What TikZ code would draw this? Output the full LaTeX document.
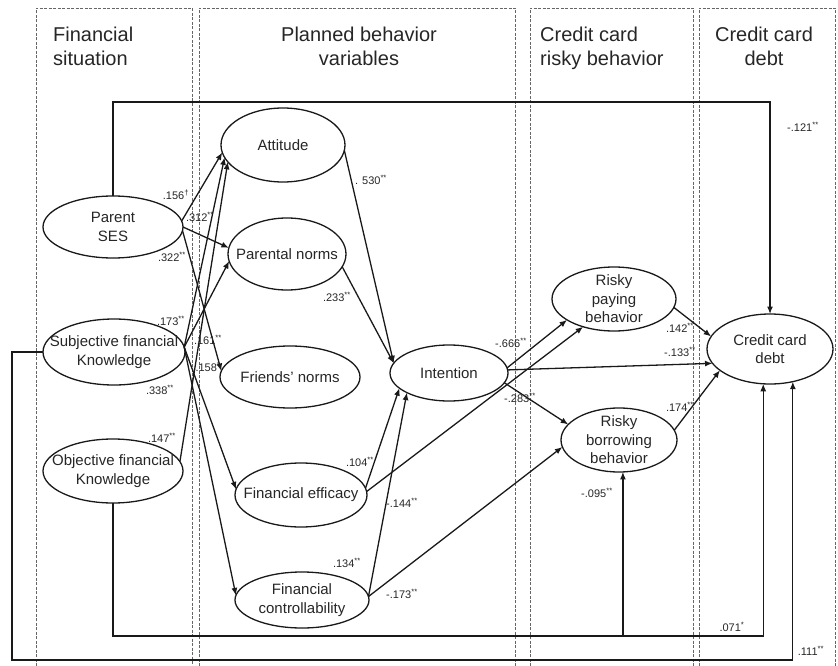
\documentclass[tikz,border=0pt]{standalone}
\usepackage{fontspec}
\setmainfont{Liberation Sans}
\usetikzlibrary{arrows.meta,shapes.geometric}
\begin{document}
\begin{tikzpicture}[x=1pt,y=-1pt,
  panel/.style={draw=black!60, line width=0.8pt, dash pattern=on 3pt off 1.5pt},
  ell/.style={draw=black!90, ellipse, line width=1.3pt, inner sep=0pt, outer sep=0pt},
  et/.style={font=\fontsize{15}{18.5}\selectfont, align=center, text=black!85, inner sep=0pt},
  title/.style={font=\fontsize{20}{23.5}\selectfont, text=black!85, inner sep=0pt},
  lbl/.style={font=\fontsize{11}{12}\selectfont, text=black!85, inner sep=0pt},
  arr/.style={draw=black!90, line width=1.3pt, -{Latex[length=7.5pt,width=6pt]}}]
\useasboundingbox (0,0) rectangle (838,666);

% panels
\draw[panel] (36,666) -- (36,8) -- (192,8) -- (192,666);
\draw[panel] (199,666) -- (199,8) -- (515,8) -- (515,666);
\draw[panel] (530,666) -- (530,8) -- (693,8) -- (693,666);
\draw[panel] (699,666) -- (699,8) -- (835,8) -- (835,666);

% titles
\node[title, anchor=north west, align=left] (t1) at (53,27) {Financial\\situation};
\node[title, anchor=north, align=center] (t2) at (359,27) {Planned behavior\\variables};
\node[title, anchor=north west, align=left] (t3) at (540,27) {Credit card\\risky behavior};
\node[title, anchor=north, align=center] (t4) at (764,27) {Credit card\\debt};

% ellipses
\node[ell, minimum width=140pt, minimum height=62pt, label={[et]center:Parent\\SES}] (ses) at (113,227) {};
\node[ell, minimum width=142pt, minimum height=66pt, label={[et]center:Subjective financial\\Knowledge}] (sk) at (114,352) {};
\node[ell, minimum width=140pt, minimum height=64pt, label={[et]center:Objective financial\\Knowledge}] (ok) at (113,471) {};
\node[ell, minimum width=124pt, minimum height=74pt, label={[et]center:Attitude}] (att) at (283,145) {};
\node[ell, minimum width=118pt, minimum height=72pt, label={[et]center:Parental norms}] (pn) at (287,254) {};
\node[ell, minimum width=140pt, minimum height=62pt, label={[et]center:Friends’ norms}] (fn) at (290,377) {};
\node[ell, minimum width=132pt, minimum height=64pt, label={[et]center:Financial efficacy}] (fe) at (301,495) {};
\node[ell, minimum width=134pt, minimum height=56pt, label={[et]center:Financial\\controllability}] (fc) at (302,600) {};
\node[ell, minimum width=118pt, minimum height=56pt, label={[et]center:Intention}] (int) at (449,373) {};
\node[ell, minimum width=124pt, minimum height=64pt, label={[et]center:Risky\\paying\\behavior}] (rp) at (614,299) {};
\node[ell, minimum width=116pt, minimum height=64pt, label={[et]center:Risky\\borrowing\\behavior}] (rb) at (619,440) {};
\node[ell, minimum width=126pt, minimum height=70pt, label={[et]center:Credit card\\debt}] (ccd) at (770,349) {};

% helper coordinates
\coordinate (ytop) at (0,102);
\coordinate (ybot1) at (0,636);
\coordinate (ybot2) at (0,660);
\coordinate (xleft) at (12,0);

% connectors
\draw[arr] (ses.north) |- (ccd.north |- ytop) -- (ccd.north);
\draw[arr] (ses.5) -- (att.187);
\draw[arr] (ses.east) -- (pn.174);
\draw[arr] (ses.-3) -- (fn.175);
\draw[arr] (sk.4) -- (att.192);
\draw[arr] (sk.4) -- (pn.187);
\draw[arr] (sk.4) -- (fe.175);
\draw[arr] (sk.4) -- (fc.176);
\draw[arr] (ok.8) -- (att.197);
\draw[arr] (att.-5) -- (int.170);
\draw[arr] (pn.-13) -- (int.170);
\draw[arr] (fe.6) -- (int.197);
\draw[arr] (fc.3) -- (int.205);
\draw[arr] (fe.3) -- (rp.222);
\draw[arr] (fc.3) -- (rb.187);
\draw[arr] (int.5) -- (rp.204);
\draw[arr] (int.3) -- (ccd.194);
\draw[arr] (int.-10) -- (rb.163);
\draw[arr] (rp.-8) -- (ccd.168);
\draw[arr] (rb.10) -- (ccd.203);
\draw[arr] (ok.south) |- (ccd.259 |- ybot1) -- (ccd.259);
\draw[arr] (rb.277 |- ybot1) -- (rb.277);
\draw[arr] (sk.west) -| (xleft |- ybot2) -- (ccd.305 |- ybot2) -- (ccd.305);

% coefficient labels
\node[lbl] (l1) at (803,127) {-.121\textsuperscript{**}};
\node[lbl] (l2) at (176,195) {.156\textsuperscript{†}};
\node[lbl] (l3) at (200,217) {.312\textsuperscript{**}};
\node[lbl] (l4) at (172,257) {.322\textsuperscript{**}};
\node[lbl] (l5) at (171,321) {.173\textsuperscript{**}};
\node[lbl] (l6) at (208,340) {.161\textsuperscript{**}};
\node[lbl] (l7) at (208,367) {.158\textsuperscript{*}};
\node[lbl] (l8) at (160,390) {.338\textsuperscript{**}};
\node[lbl] (l9) at (162,438) {.147\textsuperscript{**}};
\node[lbl] (l10) at (371,180) {. 530\textsuperscript{**}};
\node[lbl] (l11) at (337,297) {.233\textsuperscript{**}};
\node[lbl] (l12) at (360,462) {.104\textsuperscript{**}};
\node[lbl] (l13) at (402,503) {-.144\textsuperscript{**}};
\node[lbl] (l14) at (347,563) {.134\textsuperscript{**}};
\node[lbl] (l15) at (402,594) {-.173\textsuperscript{**}};
\node[lbl] (l16) at (511,343) {-.666\textsuperscript{**}};
\node[lbl] (l17) at (520,398) {-.283\textsuperscript{**}};
\node[lbl] (l18) at (680,352) {-.133\textsuperscript{**}};
\node[lbl] (l19) at (680,328) {.142\textsuperscript{**}};
\node[lbl] (l20) at (680,407) {.174\textsuperscript{**}};
\node[lbl] (l21) at (597,493) {-.095\textsuperscript{**}};
\node[lbl] (l22) at (732,627) {.071\textsuperscript{*}};
\node[lbl] (l23) at (811,651) {.111\textsuperscript{**}};
\end{tikzpicture}
\end{document}
